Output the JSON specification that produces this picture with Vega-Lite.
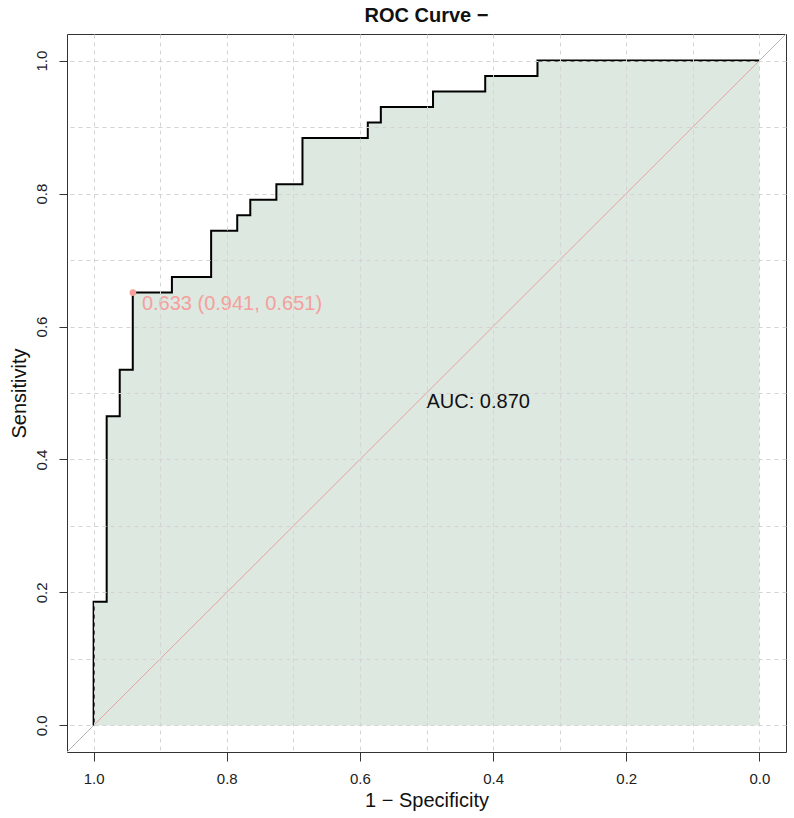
{
  "$schema": "https://vega.github.io/schema/vega-lite/v6.json",
  "autosize": {"type": "none"},
  "padding": {"left": 67, "top": 34, "right": 8, "bottom": 66},
  "width": 719,
  "height": 718,
  "title": {
    "text": "ROC Curve −",
    "fontSize": 20,
    "fontWeight": "bold",
    "anchor": "middle",
    "frame": "group",
    "offset": -10,
    "baseline": "alphabetic",
    "color": "#111111",
    "font": "Liberation Sans"
  },
  "config": {
    "font": "Liberation Sans",
    "view": {"stroke": "#333333", "strokeWidth": 1}
  },
  "datasets": {
    "roc": [
      {"spec": 0, "sens": 1},
      {"spec": 0.3333, "sens": 0.9767},
      {"spec": 0.4118, "sens": 0.9535},
      {"spec": 0.4902, "sens": 0.9302},
      {"spec": 0.5686, "sens": 0.907},
      {"spec": 0.5882, "sens": 0.8837},
      {"spec": 0.6863, "sens": 0.814},
      {"spec": 0.7255, "sens": 0.7907},
      {"spec": 0.7647, "sens": 0.7674},
      {"spec": 0.7843, "sens": 0.7442},
      {"spec": 0.8235, "sens": 0.6744},
      {"spec": 0.8824, "sens": 0.6512},
      {"spec": 0.9412, "sens": 0.5349},
      {"spec": 0.9608, "sens": 0.4651},
      {"spec": 0.9804, "sens": 0.186},
      {"spec": 1, "sens": 0}
    ],
    "diag": [
      {"spec": 1.04, "sens": -0.04},
      {"spec": -0.04, "sens": 1.04}
    ],
    "diag01": [
      {"spec": 1, "sens": 0},
      {"spec": 0, "sens": 1}
    ],
    "best": [
      {"spec": 0.941, "sens": 0.651, "label": "0.633 (0.941, 0.651)"}
    ],
    "auc": [
      {"spec": 0.5, "sens": 0.5, "label": "AUC: 0.870"}
    ]
  },
  "encoding": {
    "x": {
      "field": "spec",
      "type": "quantitative",
      "scale": {"domain": [-0.04, 1.04], "reverse": true, "nice": false, "zero": false},
      "axis": {
        "title": "1 − Specificity",
        "titleFontSize": 20,
        "titleFontWeight": "normal",
        "titleColor": "#111111",
        "titleY": 54,
        "titleBaseline": "alphabetic",
        "values": [0, 0.1, 0.2, 0.3, 0.4, 0.5, 0.6, 0.7, 0.8, 0.9, 1],
        "labelExpr": "abs(datum.value*5 - round(datum.value*5)) < 0.001 ? format(datum.value, '.1f') : ''",
        "labelFontSize": 15,
        "labelColor": "#222222",
        "labelBaseline": "alphabetic",
        "labelPadding": 22,
        "labelFlush": false,
        "labelOverlap": false,
        "domain": false,
        "tickSize": 9,
        "tickColor": "#333333",
        "tickOpacity": {"condition": {"test": "abs(datum.value*5 - round(datum.value*5)) < 0.001", "value": 1}, "value": 0},
        "grid": true,
        "gridColor": "#D3D3D3",
        "gridDash": [4, 4],
        "gridWidth": 1,
        "zindex": 1
      }
    },
    "y": {
      "field": "sens",
      "type": "quantitative",
      "scale": {"domain": [-0.04, 1.04], "nice": false, "zero": false},
      "axis": {
        "title": "Sensitivity",
        "titleFontSize": 20,
        "titleFontWeight": "normal",
        "titleColor": "#111111",
        "titleAngle": -90,
        "titleX": -42,
        "titleY": 359,
        "titleAlign": "center",
        "titleBaseline": "alphabetic",
        "values": [0, 0.1, 0.2, 0.3, 0.4, 0.5, 0.6, 0.7, 0.8, 0.9, 1],
        "labelExpr": "abs(datum.value*5 - round(datum.value*5)) < 0.001 ? format(datum.value, '.1f') : ''",
        "labelFontSize": 15,
        "labelColor": "#222222",
        "labelAngle": -90,
        "labelAlign": "center",
        "labelBaseline": "alphabetic",
        "labelPadding": 13,
        "labelFlush": false,
        "labelOverlap": false,
        "domain": false,
        "tickSize": 8,
        "tickColor": "#333333",
        "tickOpacity": {"condition": {"test": "abs(datum.value*5 - round(datum.value*5)) < 0.001", "value": 1}, "value": 0},
        "grid": true,
        "gridColor": "#D3D3D3",
        "gridDash": [4, 4],
        "gridWidth": 1,
        "zindex": 1
      }
    }
  },
  "layer": [
    {
      "data": {"name": "diag"},
      "mark": {"type": "line", "color": "#B5B5B5", "strokeWidth": 1}
    },
    {
      "data": {"name": "roc"},
      "mark": {"type": "area", "interpolate": "step-before", "color": "#DDE8E1", "opacity": 1},
      "encoding": {"y2": {"datum": 0}}
    },
    {
      "data": {"name": "diag01"},
      "mark": {"type": "line", "color": "#E9A0A0", "strokeWidth": 1}
    },
    {
      "data": {"name": "roc"},
      "mark": {"type": "line", "interpolate": "step-before", "color": "#000000", "strokeWidth": 2}
    },
    {
      "data": {"name": "best"},
      "mark": {"type": "point", "filled": true, "opacity": 1, "size": 45, "color": "#F4A09C"}
    },
    {
      "data": {"name": "best"},
      "mark": {"type": "text", "align": "left", "baseline": "alphabetic", "dx": 9, "dy": 17, "fontSize": 20, "color": "#F4A09C"},
      "encoding": {"text": {"field": "label"}}
    },
    {
      "data": {"name": "auc"},
      "mark": {"type": "text", "align": "left", "baseline": "alphabetic", "dx": 0, "dy": 15, "fontSize": 20, "color": "#111111"},
      "encoding": {"text": {"field": "label"}}
    }
  ]
}
